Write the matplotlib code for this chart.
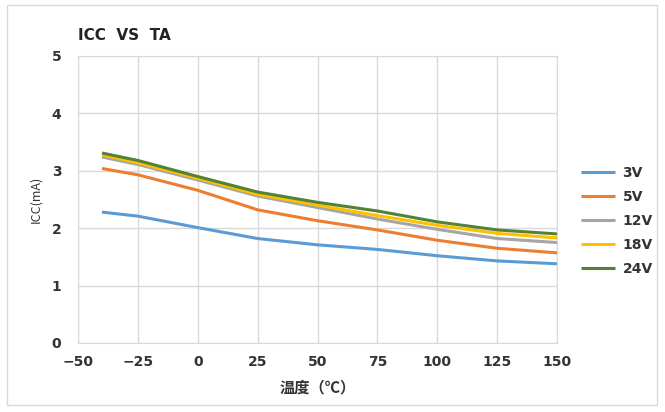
import matplotlib
matplotlib.use("Agg")
import matplotlib.pyplot as plt
from matplotlib.patches import Rectangle

plt.rcParams["font.family"] = ["Noto Sans CJK SC", "DejaVu Sans"]

# temperature (°C) and supply current (mA) per supply voltage
temps = [-40, -25, 0, 25, 50, 75, 100, 125, 150]
icc_3v = [2.28, 2.21, 2.01, 1.82, 1.71, 1.63, 1.52, 1.43, 1.38]
icc_5v = [3.04, 2.93, 2.66, 2.32, 2.13, 1.97, 1.79, 1.65, 1.57]
icc_12v = [3.24, 3.11, 2.84, 2.56, 2.36, 2.16, 1.98, 1.82, 1.75]
icc_18v = [3.28, 3.14, 2.87, 2.59, 2.40, 2.22, 2.05, 1.91, 1.83]
icc_24v = [3.31, 3.18, 2.90, 2.63, 2.45, 2.30, 2.11, 1.97, 1.90]

series = [
    ("3V", icc_3v, "#5B9BD5"),
    ("5V", icc_5v, "#ED7D31"),
    ("12V", icc_12v, "#A5A5A5"),
    ("18V", icc_18v, "#FFC000"),
    ("24V", icc_24v, "#548235"),
]

fig = plt.figure(figsize=(6.65, 4.12), dpi=100)
ax = fig.add_axes([0.1173, 0.1675, 0.7203, 0.6966])

for name, vals, col in series:
    ax.plot(temps, vals, color=col, lw=2.2, label=name,
            solid_joinstyle="round", solid_capstyle="butt")

ax.set_xlim(-50, 150)
ax.set_ylim(0, 5)
ax.set_xticks(range(-50, 151, 25))
ax.set_yticks(range(0, 6))
ax.grid(True, color="#D9D9D9", lw=1)
ax.set_axisbelow(True)
for s in ax.spines.values():
    s.set_color("#D9D9D9")
ax.tick_params(length=0, colors="#333333", labelsize=10)
ax.tick_params(axis="x", pad=9)
ax.tick_params(axis="y", pad=12)
for lab in ax.get_xticklabels() + ax.get_yticklabels():
    lab.set_fontweight("bold")
    lab.set_family("DejaVu Sans")

ax.set_xlabel("温度（℃）", fontsize=11, fontweight="bold", color="#333333",
              labelpad=7)
ax.set_ylabel("ICC(mA)", fontsize=9, color="#333333", labelpad=7)

fig.text(0.1173, 0.915, "ICC  VS  TA", fontsize=11, fontweight="bold",
         color="#222222", family="DejaVu Sans", va="center")

leg = ax.legend(loc="center left", bbox_to_anchor=(1.025, 0.425), frameon=False,
                handlelength=2.4, labelspacing=0.72, handletextpad=0.55,
                prop={"family": "DejaVu Sans", "weight": "bold", "size": 10})
for t in leg.get_texts():
    t.set_color("#333333")

fig.patches.append(Rectangle((0.011, 0.017), 0.977, 0.971,
                             transform=fig.transFigure, fill=False,
                             edgecolor="#D9D9D9", lw=1))

fig.savefig("out.png", dpi=100)
